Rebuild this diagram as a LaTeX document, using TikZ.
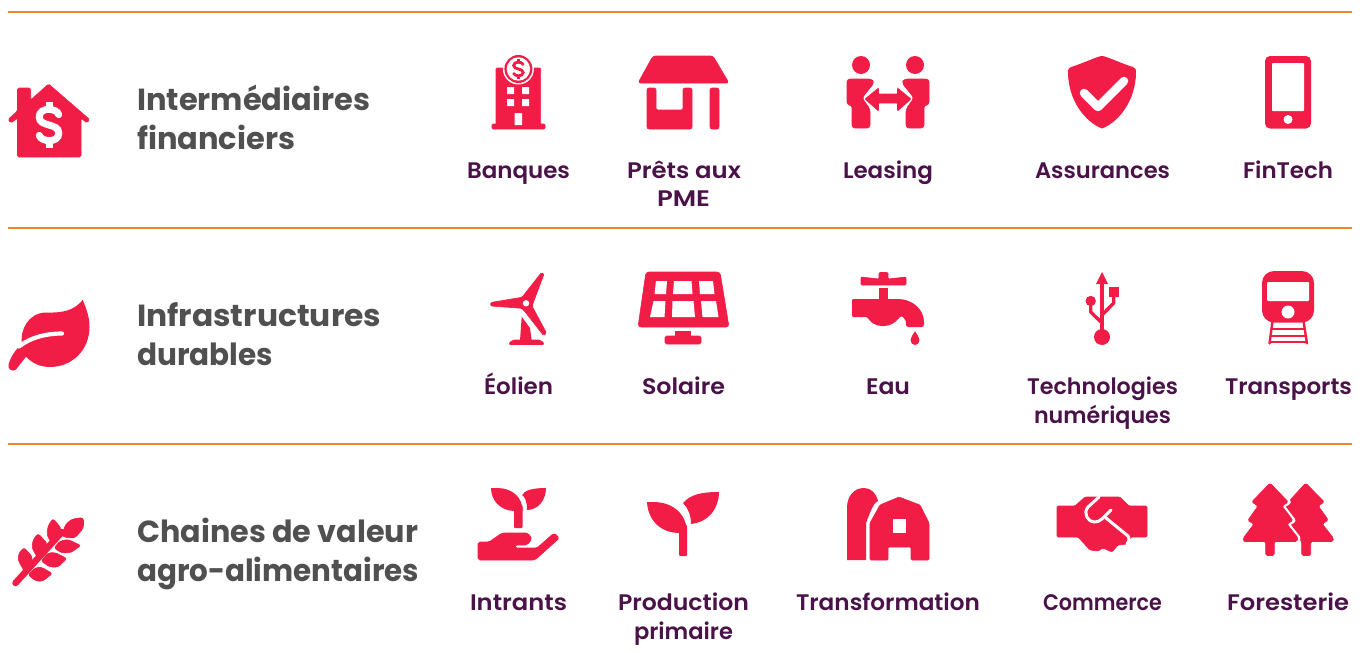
\documentclass[tikz,border=0pt]{standalone}
\usepackage{fontspec}
\setmainfont{Poppins}
\newfontfamily\labfont{Poppins SemiBold}
\newfontfamily\headfont{Poppins Bold}
\definecolor{redic}{HTML}{F21D47}
\definecolor{labc}{HTML}{4A1248}
\definecolor{headc}{HTML}{505050}
\definecolor{rulec}{HTML}{E98A2E}
\tikzset{
 ic/.style={fill=redic,draw=none},
 cut/.style={fill=white,draw=none},
 rc/.style={fill=redic,draw=redic,line width=.6pt,line join=round,rounded corners=#1},
 rc/.default=1.5pt,
 lbl/.style={font=\labfont\fontsize{22.5}{28.5}\selectfont,text=labc,align=center,inner sep=0pt,anchor=base},
 hd/.style={font=\headfont\fontsize{30.5}{39}\selectfont,text=headc,align=left,inner sep=0pt,anchor=base west},
 rule/.style={draw=rulec,line width=1.4pt},
 st/.style={draw=redic,line width=#1,line cap=round,line join=round},
 wst/.style={draw=white,line width=#1,line cap=round,line join=round},
}
% set a text so that it spans a given width in px
\newsavebox{\fitbox}
\newcommand{\fitw}[2]{%
 \sbox{\fitbox}{#2}%
 \pgfmathsetmacro{\fitratio}{#1/(\wd\fitbox/1pt)}%
 \scalebox{\fitratio}[1]{\usebox{\fitbox}}}
\newcommand{\dollarsign}[6]{%
 \begin{scope}[shift={(#1,#2)},xscale=#3,yscale=#4]
 \draw[draw=#5,line width=#6,line cap=round] (5,-4.5) .. controls (4,-7.5) and (-5,-8) .. (-5,-3.5) .. controls (-5,1) and (5,-1) .. (5,3.5) .. controls (5,8) and (-4,7.5) .. (-5,4.5);
 \draw[draw=#5,line width=#6,line cap=butt] (0,-10)--(0,-7) (0,7)--(0,10);
 \end{scope}}
\begin{document}
\begin{tikzpicture}[x=1pt,y=-1pt]
\useasboundingbox (0,0) rectangle (1366,653);
% rules
\coordinate (r1a) at (8,12); \coordinate (r1b) at (1352,12);
\coordinate (r2a) at (8,228); \coordinate (r2b) at (1352,228);
\coordinate (r3a) at (8,444); \coordinate (r3b) at (1352,444);
\draw[rule] (r1a)--(r1b); \draw[rule] (r2a)--(r2b); \draw[rule] (r3a)--(r3b);
% headings
\node[hd] (h1) at (137,110) {\fitw{233}{Intermédiaires}};
\node[hd] (h1b) at (137,149) {\fitw{158}{financiers}};
\node[hd] (h2) at (137,326) {\fitw{244}{Infrastructures}};
\node[hd] (h2b) at (137,365) {\fitw{136}{durables}};
\node[hd] (h3) at (137,542) {\fitw{281}{Chaines de valeur}};
\node[hd] (h3b) at (137,581) {\fitw{282}{agro-alimentaires}};
% labels
\node[lbl] (l11) at (518.5,178) {\fitw{103}{Banques}};
\node[lbl] (l12) at (684,178) {\fitw{114}{Prêts aux}};
\node[lbl] (l12b) at (683.5,206) {\fitw{53}{PME}};
\node[lbl] (l13) at (888,178) {\fitw{90}{Leasing}};
\node[lbl] (l14) at (1102.5,178) {\fitw{135}{Assurances}};
\node[lbl] (l15) at (1288,178) {\fitw{90}{FinTech}};
\node[lbl] (l21) at (518.5,394) {\fitw{69}{Éolien}};
\node[lbl] (l22) at (683.5,394) {\fitw{83}{Solaire}};
\node[lbl] (l23) at (888,394) {\fitw{44}{Eau}};
\node[lbl] (l24) at (1102.5,394) {\fitw{151}{Technologies}};
\node[lbl] (l24b) at (1102.5,423) {\fitw{137}{numériques}};
\node[lbl] (l25) at (1288.5,394) {\fitw{127}{Transports}};
\node[lbl] (l31) at (518.5,610) {\fitw{97}{Intrants}};
\node[lbl] (l32) at (683.5,610) {\fitw{131}{Production}};
\node[lbl] (l32b) at (683.5,639) {\fitw{99}{primaire}};
\node[lbl] (l33) at (888,610) {\fitw{184}{Transformation}};
\node[lbl] (l34) at (1102.5,610) {\fitw{119}{Commerce}};
\node[lbl] (l35) at (1288,610) {\fitw{122}{Foresterie}};
% house
\path[rc=1.5pt] (48.6,84) -- (89.6,119.5) -- (87,123) -- (81,118) -- (81,157) -- (17.5,157) -- (17.5,118) -- (11,123) -- (8,119.5) -- (17.5,111) -- (17.5,88) -- (30.7,88) -- (30.7,100) -- cycle;
\dollarsign{49}{125}{1.95}{2.3}{white}{7pt}
% bank
\path[rc=1pt] (496,68) rectangle (540.6,125);
\path[rc=1pt] (492,124) rectangle (545,129);
\fill[cut] (518.4,69) circle (15.5);
\fill[ic] (518.4,69) circle (14);
\fill[cut] (518.4,69) circle (11.7);
\dollarsign{518.4}{69}{.95}{1}{redic}{2.8pt}
\fill[cut] (507,87) rectangle (514,94) (522,87) rectangle (529,94) (507,99) rectangle (514,106) (522,99) rectangle (529,106) (514.6,113) rectangle (522,125);
% shop
\path[rc=2.5pt] (653,56) -- (713,56) -- (729,83) -- (638,83) -- cycle;
\path[rc=2pt] (647,88) -- (656,88) -- (656,110) -- (683,110) -- (683,88) -- (692,88) -- (692,129) -- (647,129) -- cycle;
\path[rc=2pt] (710,88) rectangle (719,129);
% leasing
\fill[ic] (861,65) circle (9) (915,65) circle (9);
\path[rc=3pt] (847,105) -- (847,79) -- (872,79) -- (874,83) -- (862,98) -- (870,109) -- (870,128) -- (852,128) -- (852,105) -- cycle;
\path[rc=3pt] (929,105) -- (929,79) -- (904,79) -- (902,83) -- (914,98) -- (906,109) -- (906,128) -- (924,128) -- (924,105) -- cycle;
\path[rc=.8pt] (865,99) -- (878.5,88) -- (878.5,94) -- (897.5,94) -- (897.5,88) -- (911,99) -- (897.5,111) -- (897.5,103) -- (878.5,103) -- (878.5,111) -- cycle;
% shield
\path[ic] (1102,56) .. controls (1098,56) and (1084,63) .. (1071,67) .. controls (1068,68) and (1068,70) .. (1068,72) .. controls (1068,100) and (1085,122) .. (1102,128.5) .. controls (1119,122) and (1136,100) .. (1136,72) .. controls (1136,70) and (1136,68) .. (1133,67) .. controls (1120,63) and (1106,56) .. (1102,56) -- cycle;
\draw[wst=8.5pt] (1084,93) -- (1098,107) -- (1124,81);
% phone
\fill[ic,rounded corners=5pt] (1265,56) rectangle (1311,128.5);
\fill[cut,rounded corners=.8pt] (1272,63) rectangle (1304,111);
\fill[cut] (1288,119.5) circle (4.5);
% leaf
\path[ic] (82.7,300) .. controls (87,310) and (89.5,318) .. (89.5,327) .. controls (89.5,350) and (72,367) .. (50,367) .. controls (40,367) and (32,363) .. (26,356.7) -- (16,369.5) .. controls (13,372.5) and (7,369) .. (8.5,364.5) .. controls (11,356) and (16,349) .. (21.7,344.5) .. controls (20,330) and (28,313) .. (46,312.5) .. controls (65,313) and (74,310) .. (82.7,300) -- cycle;
\draw[wst=4.2pt] (19,346.5) .. controls (31,337) and (47,333.5) .. (62,333.5);
% turbine
\path[rc=1.2pt] (541.5,272.5) -- (544,274) -- (532,306) -- (546.5,333) -- (543.5,335.5) -- (525,311.7) -- (521.7,308.3) -- (490.7,306) -- (490.7,302.5) -- (522,297.3) -- cycle;
\fill[cut] (526,303.3) circle (3.2);
\path[ic] (521.7,316.7) -- (530,328) -- (531.7,340.5) -- (520,340.5) -- cycle;
\path[rc=2pt] (508.5,344.5) -- (512,340) -- (541,340) -- (544.5,344.5) -- cycle;
% solar
\path[rc=3pt] (646,272) -- (720,272) -- (729,327) -- (638,327) -- cycle;
\fill[cut] (656,281) -- (667,281) -- (666,294) -- (654.5,294) -- cycle
 (674,281) -- (691.5,281) -- (692.5,294) -- (673,294) -- cycle
 (699,281) -- (713,281) -- (714.5,294) -- (700,294) -- cycle
 (653.5,301) -- (665.5,301) -- (664.5,317) -- (650,317) -- cycle
 (672.5,301) -- (693.5,301) -- (695,317) -- (672,317) -- cycle
 (701,301) -- (716,301) -- (718.5,317) -- (702.5,317) -- cycle;
\fill[ic] (674.5,331) rectangle (691,336);
\path[rc=1.5pt] (665,336) rectangle (701,344);
% tap
\path[rc=1pt] (861,277) -- (879,279) -- (879,272.5) -- (888,272.5) -- (888,279) -- (906,277) -- (906,285) -- (861,285) -- cycle;
\fill[ic] (879,288) rectangle (888,302);
\path[ic,rounded corners=1pt] (852,299) -- (870,299) -- (897,299) .. controls (912,299) and (924,309) .. (924,323) .. controls (924,326) and (923,327) .. (921,327) -- (909,327) .. controls (906,327) and (906,325) .. (906,322) .. controls (905,318) and (902,316) .. (900,317) .. controls (895,323) and (890,326) .. (883,326) .. controls (876,326) and (871,323) .. (867,317) -- (852,317) -- cycle;
\path[ic] (915,331) .. controls (917,335) and (919.5,337) .. (919.5,340) .. controls (919.5,343) and (917.5,345) .. (915,345) .. controls (912.5,345) and (910.5,343) .. (910.5,340) .. controls (910.5,337) and (913,335) .. (915,331) -- cycle;
% usb
\draw[st=3.4pt,line cap=butt] (1102,280) -- (1102,335);
\path[ic] (1102,272) -- (1108,284) -- (1096,284) -- cycle;
\fill[ic] (1102,337) circle (8);
\fill[ic] (1090.7,301) circle (5.2);
\draw[st=3.4pt,line cap=butt] (1090.7,301) -- (1090.7,312) -- (1102,323);
\draw[st=3.4pt,line cap=butt] (1113.7,292) -- (1113.7,303) -- (1102,315);
\fill[ic] (1109,287) rectangle (1119,297);
% train
\fill[ic,rounded corners=12pt] (1262,271) rectangle (1314,322.5);
\fill[cut,rounded corners=1pt] (1267,282) rectangle (1309,301);
\fill[cut] (1288,312) circle (6.5);
\draw[st=2.4pt] (1272.5,321) -- (1269.5,343.5) (1303.5,321) -- (1307,343.5);
\draw[st=2pt,line cap=butt] (1272,329) -- (1304.5,329) (1271,335.5) -- (1305.5,335.5) (1270,342) -- (1306.5,342);
% wheat
\draw[st=6.5pt] (15.5,583) -- (62,532);
\path[rc=3pt] (83.5,517.5) -- (83.5,528) -- (75,538) -- (64,537.5) -- (63,534) -- (65,525) -- (72,519) -- cycle;
\path[rc=2.5pt] (53,518.5) -- (61,528) -- (58.5,540) -- (52,544) -- (47,535) -- (48,526) -- cycle;
\path[rc=2.5pt] (38,533.5) -- (47,543) -- (43.5,553) -- (38,558.5) -- (32,548) -- (33,540) -- cycle;
\path[rc=2.5pt] (24,547.5) -- (32.5,557) -- (31,565) -- (25,572.5) -- (18,560) -- (19,553) -- cycle;
\path[rc=2.5pt] (81,545.5) -- (68,539.5) -- (60,541) -- (54,548) -- (62,553) -- (71,552.5) -- cycle;
\path[rc=2.5pt] (67,558.5) -- (55,552.5) -- (48,553) -- (41,561) -- (50,567) -- (58,567) -- cycle;
\path[rc=2.5pt] (52.5,573.5) -- (41,567) -- (35,568) -- (28,575) -- (36,581) -- (43,581) -- cycle;
% intrants
\fill[ic,rounded corners=1pt] (514,505) rectangle (522.6,528);
\path[ic] (491,488) -- (497,488) .. controls (512,488) and (522.6,497) .. (522.6,511) -- (515,511) .. controls (500,511) and (491,500) .. (491,488) -- cycle;
\path[ic] (546,488) .. controls (546,500) and (538,510) .. (527,510) .. controls (527,501) and (525,497) .. (522,495) .. controls (525,490) and (533,488) .. (546,488) -- cycle;
\path[rc=1.8pt] (478,542) -- (489,542) -- (502,533) -- (528,533) -- (532,539) -- (527,545) -- (515,545) -- (515,548) -- (537,548) -- (554,533) -- (559.5,538) -- (535,560) -- (478,560) -- cycle;
% sprout
\fill[ic,rounded corners=1pt] (679,525) rectangle (687,556);
\path[ic] (647,502) -- (653,502) .. controls (674,502) and (687,515) .. (687,533) -- (680,533) .. controls (660,533) and (648,520) .. (647,502) -- cycle;
\path[ic] (719,492) .. controls (719,508) and (709,522) .. (691,524) .. controls (691,515) and (688,508) .. (683,503) .. controls (690,495) and (700,492) .. (719,492) -- cycle;
% barn
\path[ic] (847,560) -- (847,508) .. controls (847,496) and (854,488) .. (864,488) .. controls (871,488) and (876,493) .. (878,501) .. controls (874,503) and (872,507) .. (866,523) -- (866,560) -- cycle;
\path[rc=1pt] (870,560) -- (870,523) -- (880,505) -- (899,497) -- (920,505) -- (929,523) -- (929,560) -- (911,560) -- (911,547) -- (888,547) -- (888,560) -- cycle;
\fill[cut] (893,519) rectangle (906,533);
% handshake
\path[rc=1.2pt] (1057,506) -- (1075,506) -- (1085,497) -- (1120,497) -- (1129,506) -- (1147,506) -- (1147,537) -- (1131,537) -- (1127,544) -- (1118,545) -- (1112,552) -- (1103,548) -- (1098,551) -- (1090,550) -- (1078,537) -- (1057,537) -- cycle;
\draw[wst=3pt] (1099,497) -- (1088,507) .. controls (1083,513) and (1087,522) .. (1095,522) .. controls (1100,522) and (1103,518) .. (1111,510);
\draw[wst=3pt] (1106,518) -- (1128,536) .. controls (1130,539) and (1129,542) .. (1127,544);
% trees
\path[rc=1.5pt] (1305.7,483) -- (1324.3,502) -- (1318.3,506) -- (1328.3,520) -- (1322.3,524) -- (1333.3,538) -- (1333.3,541.5) -- (1310.7,541.5) -- (1310.7,555.5) -- (1301.7,555.5) -- (1301.7,541.5) -- (1293,530) -- (1280,515) -- (1291,499) -- cycle;
\path[fill=white,draw=white,line width=5pt,line join=round] (1270,483) -- (1288.3,502) -- (1282,506) -- (1293,520.5) -- (1287,524) -- (1298,538) -- (1297,541.5) -- (1243.3,541.5) -- (1243.3,538) -- (1254,524) -- (1247.7,520.5) -- (1258,506) -- (1251.7,502) -- cycle;
\path[rc=1.5pt] (1270,483) -- (1288.3,502) -- (1282,506) -- (1293,520.5) -- (1287,524) -- (1298,538) -- (1297,541.5) -- (1274.3,541.5) -- (1274.3,555.5) -- (1265.7,555.5) -- (1265.7,541.5) -- (1243.3,541.5) -- (1243.3,538) -- (1254,524) -- (1247.7,520.5) -- (1258,506) -- (1251.7,502) -- cycle;
\end{tikzpicture}
\end{document}
